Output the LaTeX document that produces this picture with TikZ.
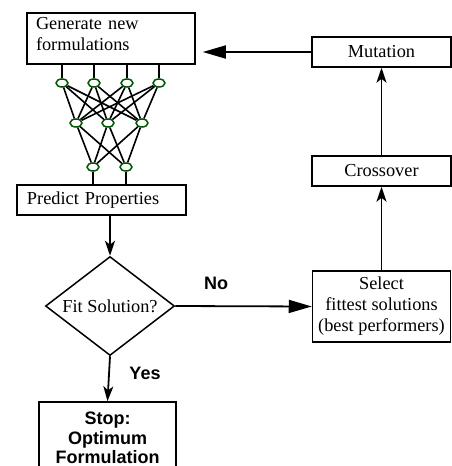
\documentclass[tikz,border=0pt]{standalone}
\usepackage{fontspec}
\setmainfont{Liberation Serif}
\newfontfamily\labelfont{Liberation Sans}
\usetikzlibrary{shapes.geometric,arrows.meta}

\tikzset{
	box/.style={draw, line width=1.5pt, rectangle, inner sep=0pt},
	neuron/.style={draw=green!35!black, fill=white, ellipse, line width=1.5pt,
		minimum width=12pt, minimum height=8pt, inner sep=0pt},
	link/.style={line width=1.6pt},
	flow/.style={line width=1.8pt, -{Stealth[length=15pt,width=10pt,inset=4pt]}},
	flowh/.style={line width=1.8pt, -{Triangle[length=23pt,width=13pt]}},
	bold/.style={font=\labelfont\bfseries\fontsize{18}{19.5}\selectfont}
}

\begin{document}
\begin{tikzpicture}[x=1pt, y=-1pt, font=\fontsize{18.3}{21}\selectfont]
	\useasboundingbox (0,0) rectangle (452,466);
	\node[box, minimum width=168pt, minimum height=51pt, text width=150pt,
		align=left, text height=13pt, text depth=32pt] (gen) at (111,38.5) {Generate new\\formulations};
	\node[box, minimum width=169pt, minimum height=30pt, text width=149pt,
		align=left] (pred) at (101.5,200) {Predict Properties};
	\node[box, diamond, aspect=1.3, minimum width=129pt, minimum height=99pt]
		(fit) at (110,306) {Fit Solution?};
	\node[box, bold, minimum width=137pt, minimum height=72pt, align=center]
		(stop) at (107.5,438) {Stop:\\Optimum\\Formulation};
	\node[box, minimum width=138pt, minimum height=71pt, align=center]
		(sel) at (381.5,306.5) {Select\\fittest solutions\\(best performers)};
	\node[box, minimum width=139pt, minimum height=30pt] (cross) at (381.5,171) {Crossover};
	\node[box, minimum width=139pt, minimum height=30pt] (mut) at (381.5,52) {Mutation};
	\node[bold] (no) at (216,283) {No};
	\node[bold] (yes) at (145,373) {Yes};

	\foreach \x [count=\i] in {62,94,127,159}
		\node[neuron] (n\i) at (\x,83) {};
	\foreach \x [count=\i] in {76,108,142}
		\node[neuron] (h\i) at (\x,123) {};
	\foreach \x [count=\i] in {93,126}
		\node[neuron] (o\i) at (\x,167) {};
	\foreach \i in {1,...,4}
		\foreach \j in {1,2,3}
			\draw[link] (n\i) -- (h\j);
	\foreach \j in {1,2,3}
		\foreach \k in {1,2}
			\draw[link] (h\j) -- (o\k);
	\foreach \i in {1,...,4}
		\draw[link] (n\i) -- (n\i |- gen.south);
	\foreach \k in {1,2}
		\draw[link] (o\k) -- (o\k |- pred.north);

	\draw[flow] (fit.north |- pred.south) -- (fit.north);
	\draw[flow] (fit.south) -- (stop.north);
	\draw[flowh] (fit.east) -- (sel.west);
	\draw[flow] (sel.north) -- (cross.south);
	\draw[flow] (cross.north) -- (mut.south);
	\draw[flowh, shorten >=7pt] (mut.west) -- (gen.east |- mut.west);
\end{tikzpicture}
\end{document}
